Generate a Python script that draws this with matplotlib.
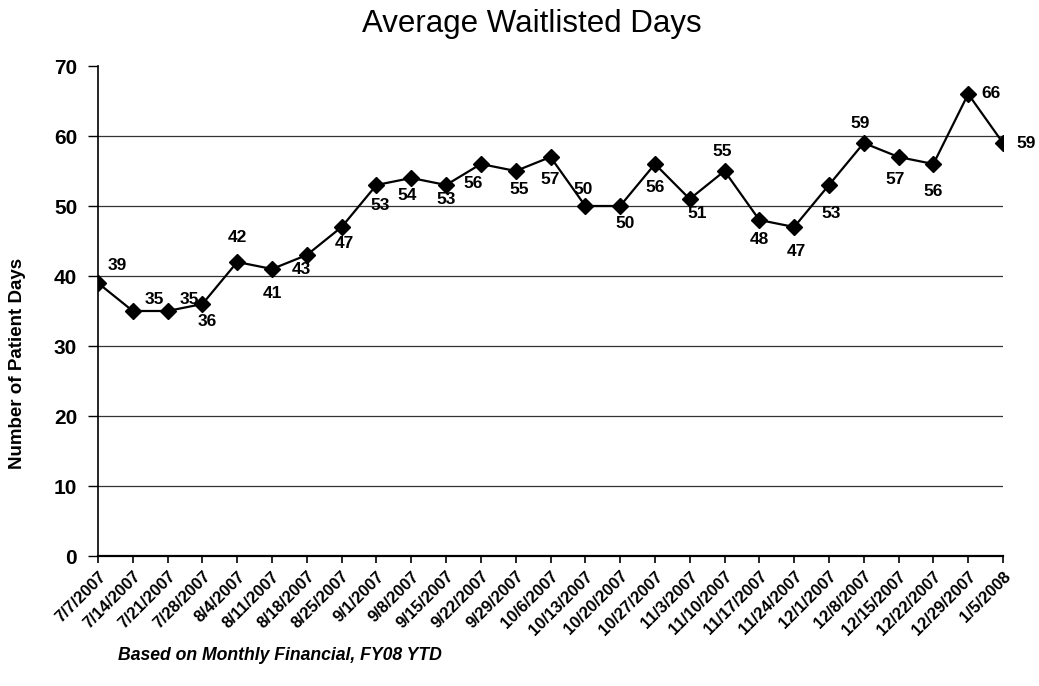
import matplotlib
matplotlib.use("Agg")
import matplotlib.pyplot as plt

# weekly data
dates = ["7/7/2007", "7/14/2007", "7/21/2007", "7/28/2007", "8/4/2007", "8/11/2007",
         "8/18/2007", "8/25/2007", "9/1/2007", "9/8/2007", "9/15/2007", "9/22/2007",
         "9/29/2007", "10/6/2007", "10/13/2007", "10/20/2007", "10/27/2007", "11/3/2007",
         "11/10/2007", "11/17/2007", "11/24/2007", "12/1/2007", "12/8/2007", "12/15/2007",
         "12/22/2007", "12/29/2007", "1/5/2008"]
days = [39, 35, 35, 36, 42, 41, 43, 47, 53, 54, 53, 56, 55, 57, 50, 50, 56, 51,
        55, 48, 47, 53, 59, 57, 56, 66, 59]
# the printed labels as they appear on the chart
labels = ["39", "35", "35", "36", "42", "41", "43", "47", "53", "54", "53", "56", "55",
          "57", "50", "50", "56", "51", "55", "48", "47", "53", "59", "57", "56", "66", "59"]
y_ticks = [0, 10, 20, 30, 40, 50, 60, 70]

# label offsets in pixels (dx, dy) - placement only
offsets = [(19, 17), (22, 11), (22, 11), (5, -18), (0, 24), (0, -25), (-5, -14),
           (3, -16), (4, -21), (-4, -17), (0, -15), (-8, -19), (3, -19), (0, -23),
           (-2, 17), (5, -18), (0, -24), (7, -14), (-2, 20), (0, -20), (2, -25),
           (2, -29), (-4, 20), (-3, -22), (0, -27), (23, 0), (23, 0)]

plt.rcParams["font.family"] = ["Liberation Sans", "DejaVu Sans"]

fig = plt.figure(figsize=(10.39, 6.86), dpi=100)
ax = fig.add_axes([98 / 1039, 1 - 556 / 686, 905 / 1039, 490 / 686])

x = list(range(len(days)))
ax.plot(x, days, color="black", linewidth=1.6, marker="D", markersize=8.5,
        markerfacecolor="black", markeredgecolor="black", zorder=3)

for xi, yi, lab, (dx, dy) in zip(x, days, labels, offsets):
    ax.annotate(lab, (xi, yi), xytext=(dx, dy), textcoords="offset pixels",
                ha="center", va="center", fontsize=12.5, fontweight="bold")

ax.set_xlim(0, len(days) - 1)
ax.set_ylim(0, 70)
ax.set_yticks(y_ticks)
ax.set_yticklabels([str(v) for v in y_ticks], fontsize=15, fontweight="bold")
ax.set_xticks(x)
ax.set_xticklabels(dates, rotation=45, ha="right", rotation_mode="anchor",
                   fontsize=12, fontweight="bold")
ax.tick_params(axis="x", length=5, width=1.2, pad=4, direction="out")
ax.tick_params(axis="y", length=7, width=1, pad=8)

for v in y_ticks[1:-1]:
    ax.axhline(v, color="#333333", linewidth=0.9, zorder=1)

for s in ["top", "right"]:
    ax.spines[s].set_visible(False)
ax.spines["left"].set_linewidth(1.2)
ax.spines["bottom"].set_linewidth(1.6)

fig.text(532 / 1039, 1 - 32 / 686, "Average Waitlisted Days", ha="center", va="baseline",
         fontsize=22.5)
fig.text(18 / 1039, 1 - 363 / 686, "Number of Patient Days", ha="center", va="center",
         rotation=90, fontsize=13.5, fontweight="bold")
fig.text(118 / 1039, 1 - 655 / 686, "Based on Monthly Financial, FY08 YTD", ha="left",
         va="center", fontsize=12.7, fontweight="bold", fontstyle="italic")

fig.savefig("out.png", dpi=100)
